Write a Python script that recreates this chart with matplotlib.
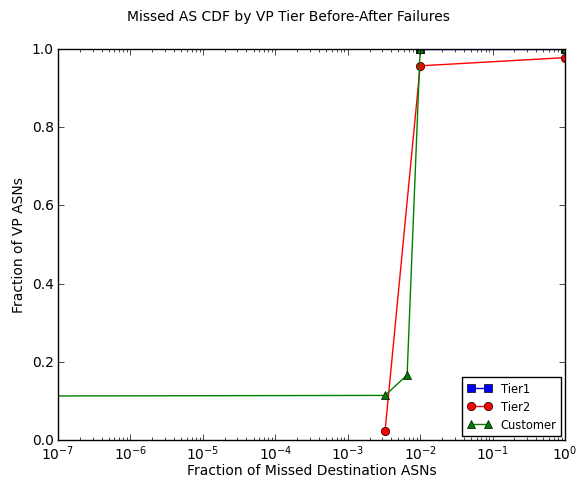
import numpy as np
import matplotlib
matplotlib.use('Agg')
import matplotlib.pyplot as plt

plt.style.use('classic')
plt.rcParams['figure.facecolor'] = 'white'
plt.rcParams['savefig.facecolor'] = 'white'
plt.rcParams['font.size'] = 10
plt.rcParams['axes.labelsize'] = 10
plt.rcParams['xtick.labelsize'] = 10
plt.rcParams['ytick.labelsize'] = 10
plt.rcParams['xtick.major.pad'] = 2.5
plt.rcParams['xtick.minor.pad'] = 2.5
plt.rcParams['ytick.major.pad'] = 3
plt.rcParams['ytick.minor.pad'] = 3

# values
tier1_x = [0.01, 1.0]
tier1_y = [1.0, 1.0]

tier2_x = [0.00327, 0.01, 1.0]
tier2_y = [0.022, 0.957, 0.978]

customer_x = [1e-9, 0.00327, 0.0066, 0.01, 1.0]
customer_y = [0.112, 0.114, 0.166, 1.0, 1.0]

fig = plt.figure(figsize=(5.76, 4.81), dpi=100)
ax = fig.add_axes([0.1007, 0.0832, 0.8803, 0.8128])

ax.plot(tier1_x, tier1_y, color='b', marker='s', label='Tier1')
ax.plot(tier2_x, tier2_y, color='r', marker='o', label='Tier2')
ax.plot(customer_x, customer_y, color='g', marker='^', label='Customer')

ax.set_xscale('log')
ax.set_xlim(1e-7, 1)
ax.set_ylim(0, 1)
ax.set_xlabel('Fraction of Missed Destination ASNs', labelpad=1)
ax.set_ylabel('Fraction of VP ASNs', labelpad=4)
ax.legend(loc='lower right', fontsize=8.3, labelspacing=0.45, borderpad=0.4,
          handlelength=2.1, handletextpad=0.8, borderaxespad=0.35)
fig.suptitle('Missed AS CDF by VP Tier Before-After Failures', fontsize=10)

fig.savefig('out.png', dpi=100)
